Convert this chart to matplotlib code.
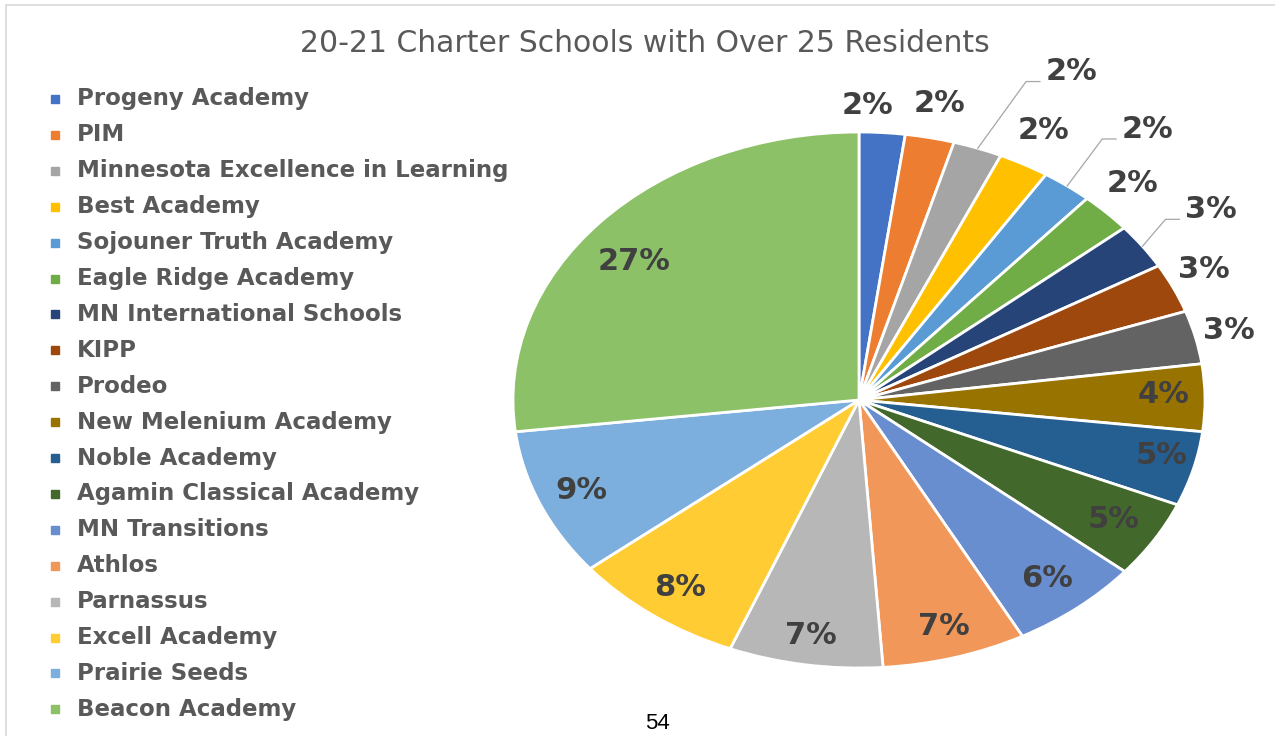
#!/usr/bin/env python3
"""Pie chart of 20-21 charter schools with over 25 residents."""

import numpy as np
import matplotlib
matplotlib.use("Agg")
import matplotlib.pyplot as plt
from matplotlib.patches import Rectangle

SCHOOLS = [
    "Progeny Academy",
    "PIM",
    "Minnesota Excellence in Learning",
    "Best Academy",
    "Sojouner Truth Academy",
    "Eagle Ridge Academy",
    "MN International Schools",
    "KIPP",
    "Prodeo",
    "New Melenium Academy",
    "Noble Academy",
    "Agamin Classical Academy",
    "MN Transitions",
    "Athlos",
    "Parnassus",
    "Excell Academy",
    "Prairie Seeds",
    "Beacon Academy",
]
# estimated resident counts (shares)
RESIDENTS = [28, 30, 30, 31, 31, 32, 36, 39, 42, 53, 59, 61, 80, 88, 94, 106, 117, 352]

COLORS = [
    "#4472C4", "#ED7D31", "#A5A5A5", "#FFC000", "#5B9BD5", "#70AD47",
    "#264478", "#9E480E", "#636363", "#997300", "#255E91", "#43682B",
    "#698ED0", "#F1975A", "#B7B7B7", "#FFCD33", "#7CAFDD", "#8CC168",
]

# label placement: radial distance (1 = rim) and angle nudge in degrees
LABEL_R = [1.10, 1.13, 1.37, 1.14, 1.31, 1.13, 1.24, 1.11, 1.10,
           0.88, 0.90, 0.86, 0.86, 0.88, 0.89, 0.87, 0.87, 0.83]
LABEL_NUDGE = [2.5, 0, -6.5, 0.5, -2.5, 1.3, 0.0, 1.4, 0.1,
               0.9, 1.6, 0.2, 0, 0, 0, 0, 0, 3.2]
LEADERS = (2, 4, 6)  # slices whose labels get a leader line

TEXT_GRAY = "#404040"
LEGEND_GRAY = "#595959"
FONT = ["DejaVu Sans"]

fig = plt.figure(figsize=(12.75, 7.36), dpi=100)
W, H = 1275, 736

# light frame along the top and left edge
fig.patches.append(Rectangle((6 / W, -0.1), 1.2, (736 - 5) / H + 0.1,
                             transform=fig.transFigure, fill=False,
                             edgecolor="#D9D9D9", linewidth=1.2))

# pie axes spanning the (horizontally stretched) ellipse
cx, cy, rx, ry = 859, 400, 346, 268
ax = fig.add_axes([(cx - rx) / W, (H - cy - ry) / H, 2 * rx / W, 2 * ry / H])
wedges, _ = ax.pie(RESIDENTS, colors=COLORS, startangle=90, counterclock=False,
                   wedgeprops=dict(edgecolor="white", linewidth=2))
ax.set_aspect("auto")
ax.set_xlim(-1, 1)
ax.set_ylim(-1, 1)
ax.axis("off")

total = float(sum(RESIDENTS))
for i, w in enumerate(wedges):
    pct = RESIDENTS[i] / total * 100
    mid = np.deg2rad((w.theta1 + w.theta2) / 2)
    ang = mid + np.deg2rad(LABEL_NUDGE[i])
    tx, ty = LABEL_R[i] * np.cos(ang), LABEL_R[i] * np.sin(ang)
    ax.text(tx, ty, f"{pct:.0f}%", ha="center", va="center", fontsize=22,
            fontweight="bold", color=TEXT_GRAY, family=FONT)
    if i in LEADERS:
        ex, ey = tx - 0.13, ty - 0.037
        ax.plot([np.cos(mid), ex, tx - 0.09], [np.sin(mid), ey, ey],
                color="#A6A6A6", lw=0.9, solid_joinstyle="miter", clip_on=False)

# title
fig.text(645 / W, 1 - 43 / H, "20-21 Charter Schools with Over 25 Residents",
         ha="center", va="center", fontsize=21.5, color=LEGEND_GRAY, family=FONT)

# legend drawn as a column of squares and names
row0, step = 99, 35.9
for i, (name, col) in enumerate(zip(SCHOOLS, COLORS)):
    y = 1 - (row0 + i * step) / H
    fig.patches.append(Rectangle((51 / W, y - 4 / H), 8 / W, 8 / H,
                                 transform=fig.transFigure, color=col))
    fig.text(77 / W, y, name, ha="left", va="center", fontsize=16.5,
             fontweight="bold", color=LEGEND_GRAY, family=FONT)

# page number at the bottom
fig.text(657 / W, 1 - 713 / H, "54", ha="center", va="top", fontsize=16,
         color="black", family=["Liberation Sans", "DejaVu Sans"])

fig.savefig("out.png", dpi=100, facecolor="white")
